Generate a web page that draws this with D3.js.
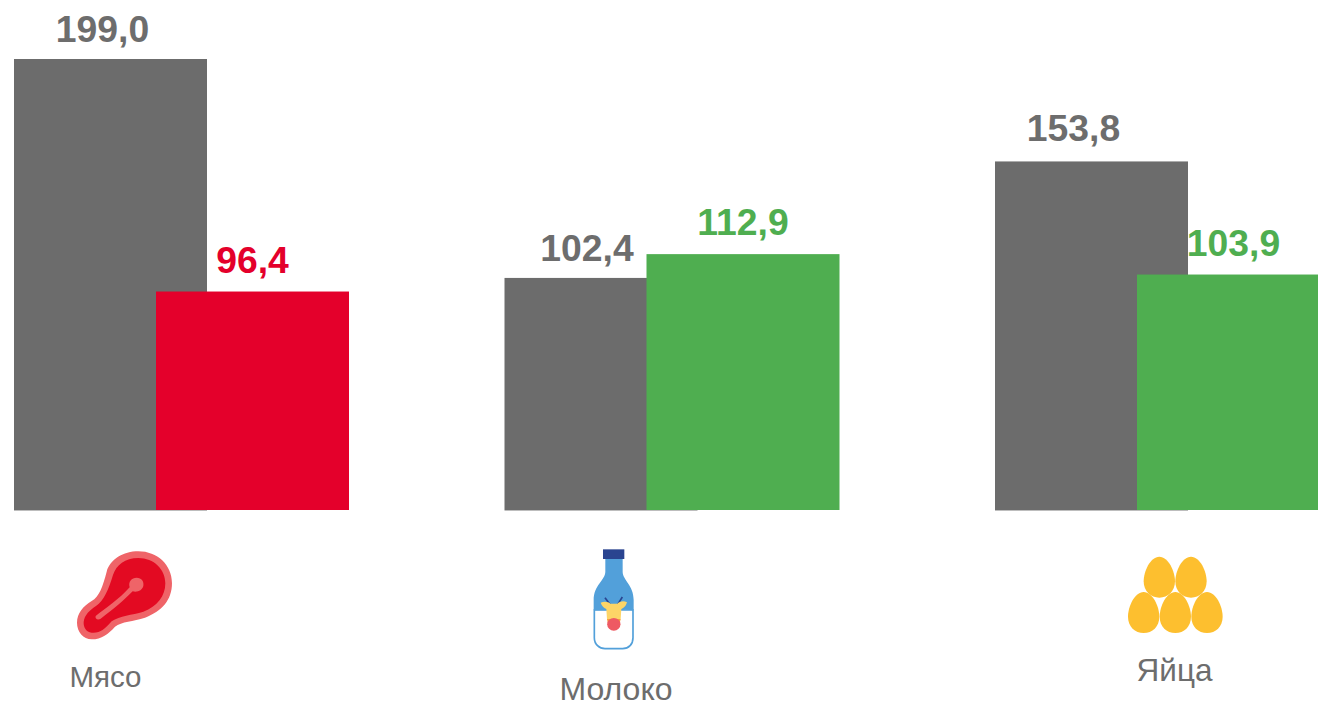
<!DOCTYPE html>
<html><head><meta charset="utf-8">
<script src="https://cdnjs.cloudflare.com/ajax/libs/d3/7.8.5/d3.min.js"></script>
<style>html,body{margin:0;padding:0;background:#fff;overflow:hidden}svg{display:block}text{font-family:"Liberation Sans",Arial,sans-serif}</style>
</head><body><svg id="c" width="1318" height="702"></svg>
<script>
const categories = ["Мясо", "Молоко", "Яйца"];
const seriesGrey = [199.0, 102.4, 153.8];
const seriesColored = [96.4, 112.9, 103.9];
const coloredFill = ["#e4002b", "#4fae50", "#4fae50"];
const greyLabelShift = [-8, -14, -18];
const greyLabelGap = [17, 17, 20];
const catLabelX = [105.5, 616, 1174.5];
const catLabelY = [687, 699.5, 681];
const catLabelSize = [29.5, 32, 31.5];
const GREY = "#6c6c6c", TEXT = "#6d6d6d";
const fmt = v => v.toFixed(1).replace(".", ",");

const svg = d3.select("#c");
const y = d3.scaleLinear().domain([0, 199]).range([510, 59]);
const x = d3.scaleLinear().domain([0, 2]).range([14, 995]);
const barW = 193, overlap = 142;

svg.selectAll("line.base").data(categories).join("line")
  .attr("x1", (d, i) => x(i)).attr("x2", (d, i) => x(i) + barW)
  .attr("y1", 510.5).attr("y2", 510.5).attr("stroke", "#bdbdbd").attr("stroke-width", 1);

svg.selectAll("rect.g").data(seriesGrey).join("rect").attr("class", "g")
  .attr("x", (d, i) => x(i)).attr("y", d => y(d)).attr("width", barW)
  .attr("height", d => y(0) - y(d)).attr("fill", GREY);
svg.selectAll("rect.k").data(seriesColored).join("rect").attr("class", "k")
  .attr("x", (d, i) => x(i) + overlap).attr("y", d => y(d)).attr("width", barW)
  .attr("height", d => y(0) - y(d)).attr("fill", (d, i) => coloredFill[i]);

svg.selectAll("text.lg").data(seriesGrey).join("text").attr("class", "lg")
  .attr("x", (d, i) => x(i) + barW / 2 + greyLabelShift[i]).attr("y", (d, i) => y(d) - greyLabelGap[i])
  .attr("text-anchor", "middle").attr("font-size", 37.3).attr("font-weight", 700)
  .attr("fill", TEXT).text(fmt);
svg.selectAll("text.lk").data(seriesColored).join("text").attr("class", "lk")
  .attr("x", (d, i) => x(i) + overlap + barW / 2).attr("y", d => y(d) - 19)
  .attr("text-anchor", "middle").attr("font-size", 37.3).attr("font-weight", 700)
  .attr("fill", (d, i) => coloredFill[i]).text(fmt);

svg.selectAll("text.cat").data(categories).join("text").attr("class", "cat")
  .attr("x", (d, i) => catLabelX[i]).attr("y", (d, i) => catLabelY[i])
  .attr("text-anchor", "middle").attr("font-size", (d, i) => catLabelSize[i])
  .attr("fill", TEXT).text(d => d);

// Meat icon
const meat = svg.append("g").attr("transform", "translate(50,530) scale(0.3333)");
meat.append("path").attr("fill", "#ef6468")
  .attr("d", "M265,64 C322,64 366,105 366,160 C366,210 335,245 285,263 C250,275 215,274 195,290 C175,312 155,328 125,328 C100,328 81,305 81,278 C81,250 100,228 125,213 C148,200 158,170 170,125 C180,88 220,64 265,64 Z");
meat.append("path").attr("fill", "#e30a22")
  .attr("d", "M265,84 C312,84 346,118 346,160 C346,198 322,230 280,245 C245,256 210,256 185,274 C165,297 150,310 125,308 C108,306 100,292 101,276 C103,255 120,240 138,228 C162,212 175,180 189,135 C199,105 225,84 265,84 Z");
meat.append("path").attr("fill", "#ef6468")
  .attr("d", "M260,143 C275,143 283,155 280,168 C277,181 262,188 248,184 C225,208 190,238 152,266 C145,271 134,268 137,258 C165,235 208,208 239,172 C234,155 245,143 260,143 Z");

// Milk icon
const milk = svg.append("g").attr("transform", "translate(550,535) scale(0.3333)");
milk.append("path").attr("fill", "#fff").attr("stroke", "#52a0da").attr("stroke-width", 5)
  .attr("d", "M133,225 L133,308 C133,328 148,341 165,341 L218,341 C236,341 249,328 249,308 L249,225 Z");
milk.append("path").attr("fill", "#52a0da")
  .attr("d", "M166,70 L218,70 L218,110 C218,135 251,150 251,195 L251,226 L226,224 C200,226 170,226 131,226 L131,195 C131,150 166,135 166,110 Z");
milk.append("rect").attr("x", 159).attr("y", 43).attr("width", 64).attr("height", 29).attr("fill", "#2a4490");
milk.append("path").attr("fill", "none").attr("stroke", "#2a4490").attr("stroke-width", 5)
  .attr("d", "M165,188 L183,212 M217,186 L201,212");
milk.append("path").attr("fill", "#fdd567")
  .attr("d", "M152,203 C163,198 175,200 181,206 L202,206 C208,200 220,196 231,202 C227,216 219,220 214,222 L212,252 C208,262 175,262 171,252 L169,222 C163,220 156,214 152,203 Z");
milk.append("path").attr("fill", "#f7a03a").attr("d", "M171,252 L212,252 L208,270 L175,270 Z");
milk.append("ellipse").attr("cx", 191.5).attr("cy", 268).attr("rx", 20).attr("ry", 19).attr("fill", "#ee5a63");

// Egg icon
const eggCentersX = [148, 243, 101, 196, 291];
const eggCentersY = [112, 112, 218, 218, 218];
const eggPath = "M0,-62 C27,-62 47,-18 47,12 C47,42 26,61 0,61 C-26,61 -47,42 -47,12 C-47,-18 -27,-62 0,-62 Z";
svg.append("g").attr("transform", "translate(1110,540) scale(0.3333)")
  .selectAll("path").data(eggCentersX).join("path")
  .attr("transform", (d, i) => `translate(${d},${eggCentersY[i]})`)
  .attr("d", eggPath).attr("fill", "#fdbf2f");
</script></body></html>
